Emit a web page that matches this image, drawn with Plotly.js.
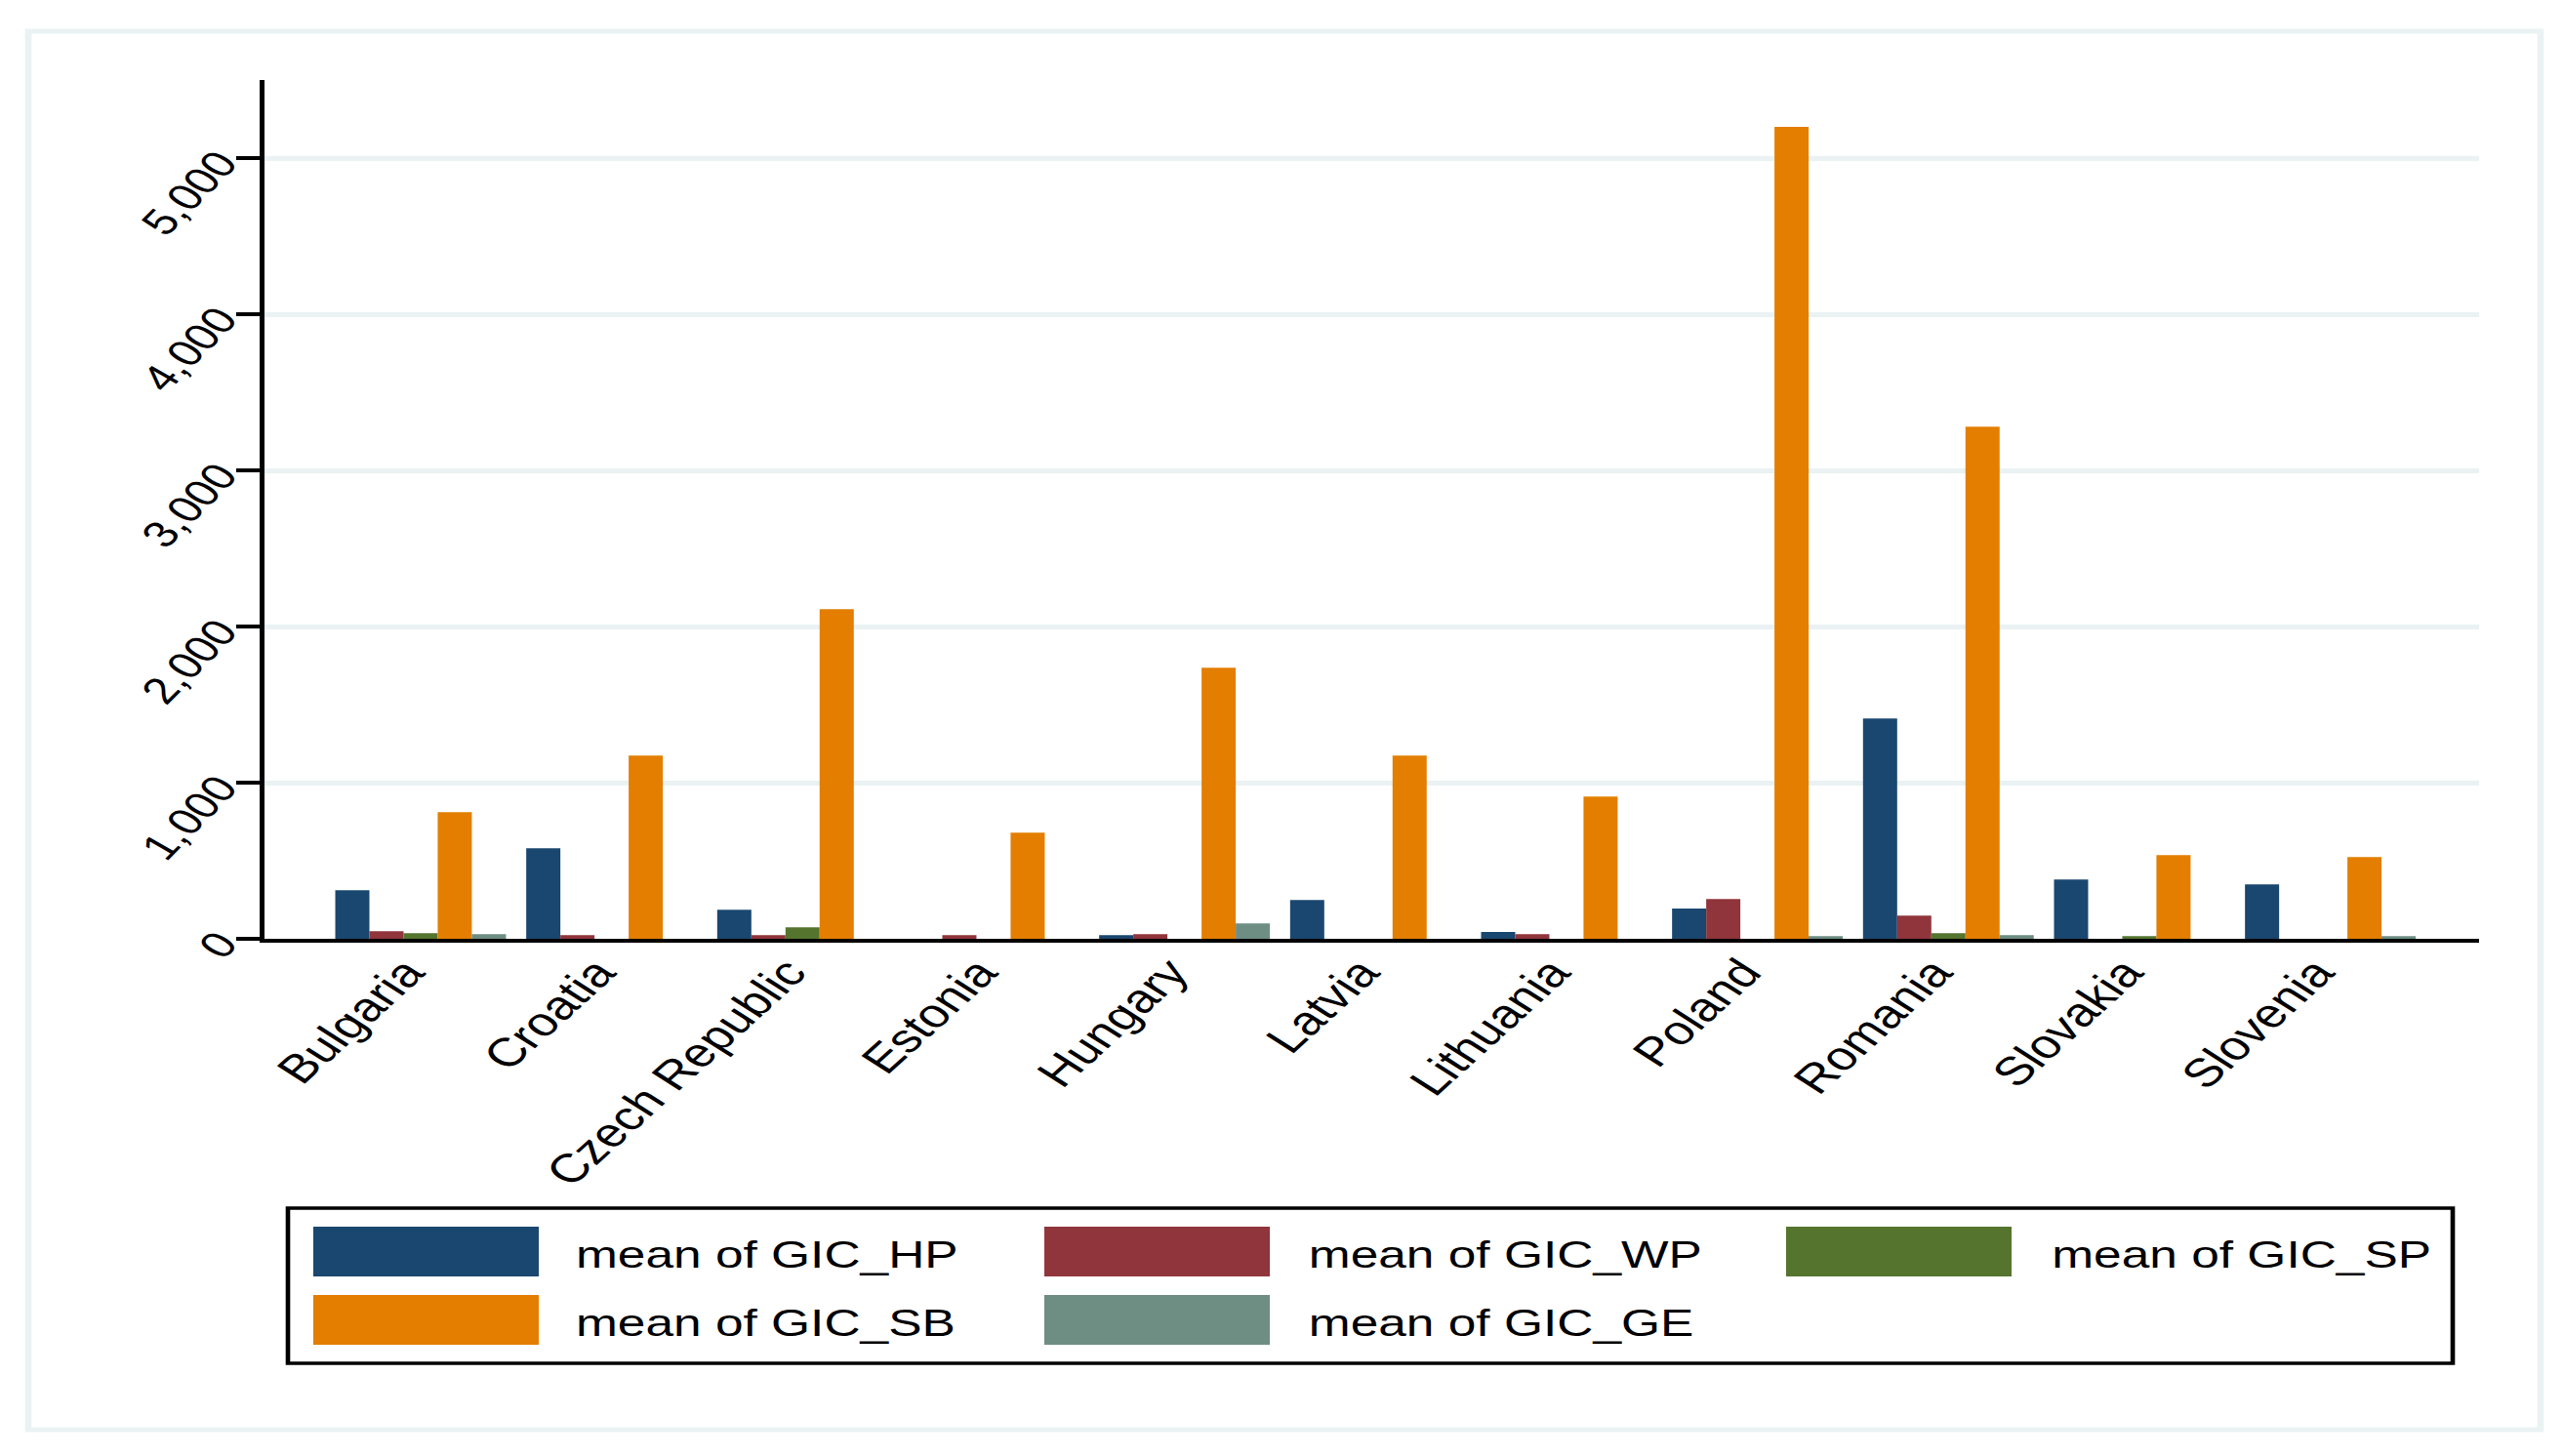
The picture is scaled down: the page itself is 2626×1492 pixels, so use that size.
<!DOCTYPE html>
<html>
<head>
<meta charset="utf-8">
<script src="https://cdn.plot.ly/plotly-3.0.1.min.js"></script>
<style>
  html, body { margin: 0; padding: 0; background: #ffffff; overflow: hidden; }
  #wrap { width: 2626px; height: 1492px; overflow: hidden; }
  #chart { width: 1990px; height: 1492px; transform: scaleX(1.31960); transform-origin: 0 0; }
</style>
</head>
<body>
<div id="wrap"><div id="chart"></div></div>
<script>
// ---- data ----
const categories = ['Bulgaria', 'Croatia', 'Czech Republic', 'Estonia', 'Hungary', 'Latvia',
                    'Lithuania', 'Poland', 'Romania', 'Slovakia', 'Slovenia'];
const gicHP = [311, 580, 186, 0, 24, 249, 43, 193, 1411, 380, 349];
const gicWP = [49, 24, 24, 24, 30, 0, 30, 255, 149, 0, 0];
const gicSP = [36, 0, 74, 0, 0, 0, 0, 0, 36, 17, 0];
const gicSB = [811, 1174, 2111, 680, 1736, 1174, 911, 5200, 3279, 536, 524];
const gicGE = [30, 0, 0, 0, 99, 0, 0, 17, 24, 0, 17];
const seriesNames = ['mean of GIC_HP', 'mean of GIC_WP', 'mean of GIC_SP', 'mean of GIC_SB', 'mean of GIC_GE'];
const yTickVals = [0, 1000, 2000, 3000, 4000, 5000];

// ---- styles ----
const colors = ['#1a476f', '#90353b', '#55752f', '#e37e00', '#6e8e84'];
const seriesValues = [gicHP, gicWP, gicSP, gicSB, gicGE];
const FONT = 'Liberation Sans, Arial, Helvetica, sans-serif';
const S = 2626 / 1990;           // horizontal stretch applied by CSS
const M = {l: 205, r: 65, t: 82, b: 530};
const plotW = 1990 - M.l - M.r;
const plotH = 1492 - M.t - M.b;
const px = x => (x / S - M.l) / plotW;   // picture x -> paper
const py = y => (M.t + plotH - y) / plotH; // picture y -> paper

const traces = seriesValues.map((vals, i) => ({
  type: 'bar',
  name: seriesNames[i],
  x: categories,
  y: vals,
  marker: {color: colors[i], line: {width: 0}},
  hoverinfo: 'x+y+name'
}));

// custom legend (large swatches like the original)
const legendSlots = [
  {sx: 321, tx: 587, y0: 1257},
  {sx: 1070, tx: 1338, y0: 1257},
  {sx: 1830, tx: 2100, y0: 1257},
  {sx: 321, tx: 587, y0: 1327},
  {sx: 1070, tx: 1338, y0: 1327}
];
const SW_W = 231, SW_H = 51;

const shapes = [
  {type: 'rect', xref: 'paper', yref: 'paper', x0: px(29), x1: px(2603), y0: py(32), y1: py(1465),
   line: {color: '#eaf2f3', width: 5}, fillcolor: 'rgba(0,0,0,0)', layer: 'below'},
  {type: 'rect', xref: 'paper', yref: 'paper', x0: px(295), x1: px(2513), y0: py(1238), y1: py(1397),
   line: {color: '#000000', width: 3.5}, fillcolor: '#ffffff'}
];
const annotations = [];
legendSlots.forEach((s, i) => {
  shapes.push({type: 'rect', xref: 'paper', yref: 'paper',
    x0: px(s.sx), x1: px(s.sx + SW_W), y0: py(s.y0), y1: py(s.y0 + SW_H),
    line: {width: 0}, fillcolor: colors[i]});
  annotations.push({xref: 'paper', yref: 'paper', x: px(s.tx), y: py(s.y0 + SW_H / 2 + 3),
    xanchor: 'left', yanchor: 'middle', showarrow: false, text: seriesNames[i],
    font: {family: FONT, size: 39, color: '#000000'}});
});

const layout = {
  width: 1990, height: 1492,
  margin: M,
  paper_bgcolor: '#ffffff', plot_bgcolor: '#ffffff',
  barmode: 'group', bargap: 0.106, bargroupgap: 0,
  showlegend: false,
  font: {family: FONT, size: 36, color: '#000000'},
  xaxis: {
    type: 'category', range: [-0.82, 10.78],
    showline: true, linecolor: '#000000', linewidth: 4,
    ticks: '', showgrid: false, zeroline: false,
    tickangle: -50, tickfont: {family: FONT, size: 41, color: '#000000'},
    ticklabelstandoff: -10, ticklabelshift: -11
  },
  yaxis: {
    range: [0, 5500],
    tickvals: yTickVals, tickformat: ',d',
    showline: true, linecolor: '#000000', linewidth: 3.5,
    ticks: 'outside', ticklen: 18, tickwidth: 4, tickcolor: '#000000',
    showgrid: true, gridcolor: '#eaf2f3', gridwidth: 5,
    zeroline: false,
    tickangle: -53, tickfont: {family: FONT, size: 38, color: '#000000'},
    ticklabelstandoff: 5
  },
  shapes: shapes,
  annotations: annotations
};

Plotly.newPlot('chart', traces, layout, {displayModeBar: false, staticPlot: true});
</script>
</body>
</html>
